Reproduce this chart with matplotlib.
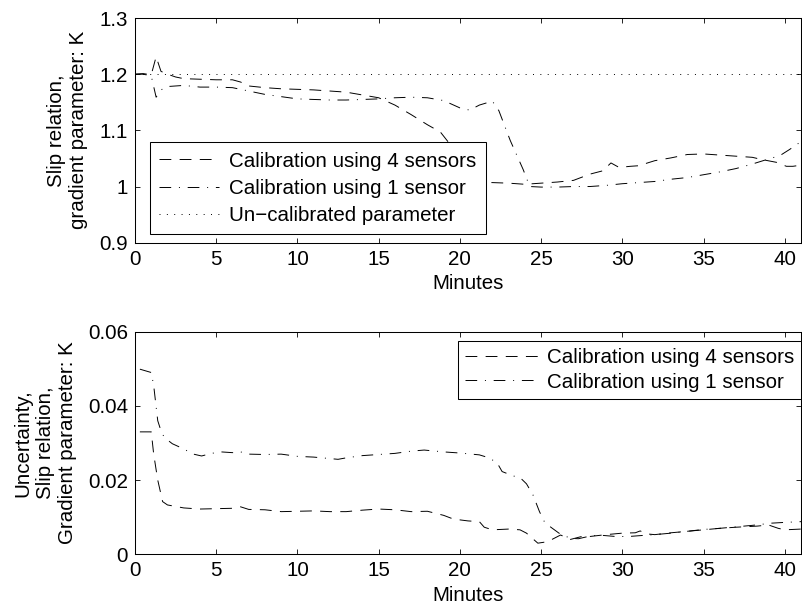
import numpy as np
import matplotlib
matplotlib.use('Agg')
import matplotlib.pyplot as plt

plt.rcParams['font.family'] = ['Liberation Sans', 'DejaVu Sans']
plt.rcParams['font.size'] = 14.8
plt.rcParams['lines.scale_dashes'] = False

# upper panel: slip relation gradient parameter K
t_k4 = [0, 0.5, 1.0, 1.3, 1.6, 2.0, 2.5, 3, 4, 5, 6, 6.5, 7, 8, 9, 10, 11, 12, 13, 14,
        15, 16, 17, 18, 18.8, 19.4, 20, 20.5, 21, 22, 23, 24, 25, 26, 27, 28, 28.8,
        29.3, 29.8, 30.5, 31, 32, 33, 34, 35, 36, 37, 38, 38.6, 39.5, 40.1, 40.5, 41]
k4 = [1.2, 1.201, 1.199, 1.231, 1.205, 1.2, 1.195, 1.192, 1.191, 1.19, 1.19, 1.186,
      1.179, 1.176, 1.174, 1.173, 1.172, 1.17, 1.168, 1.163, 1.158, 1.145, 1.128,
      1.11, 1.097, 1.075, 1.03, 1.008, 1.007, 1.007, 1.006, 1.004, 1.006, 1.008,
      1.011, 1.022, 1.028, 1.042, 1.034, 1.036, 1.037, 1.046, 1.051, 1.057, 1.058,
      1.056, 1.054, 1.052, 1.048, 1.043, 1.036, 1.036, 1.038]

t_k1 = [0, 0.5, 1.0, 1.3, 1.6, 2.0, 3, 4, 5, 6, 7, 8, 9, 10, 11, 12, 13, 14, 15, 16,
        17, 18, 19, 20, 20.6, 21.2, 22.0, 22.4, 23.1, 23.9, 24.3, 25, 26, 27, 28, 29,
        30, 31, 32, 33, 34, 35, 36, 37, 38, 39, 39.7, 40.3, 41]
k1 = [1.2, 1.2, 1.197, 1.159, 1.172, 1.178, 1.18, 1.177, 1.177, 1.176, 1.17, 1.164,
      1.16, 1.156, 1.155, 1.154, 1.154, 1.155, 1.156, 1.158, 1.159, 1.158, 1.153,
      1.14, 1.136, 1.145, 1.152, 1.135, 1.082, 1.03, 1.0, 0.999, 0.999, 1.0, 1.0,
      1.002, 1.005, 1.007, 1.009, 1.013, 1.016, 1.021, 1.026, 1.032, 1.04, 1.049,
      1.055, 1.066, 1.08]

k_uncal = 1.2

# lower panel: uncertainty of K
t_u4 = [0.3, 1.0, 1.15, 1.4, 1.7, 2.0, 3, 4, 5, 6, 6.5, 7, 8, 9, 10, 11, 12, 13, 14,
        15, 16, 17, 18, 19, 19.6, 20.5, 21.2, 21.5, 22, 23, 23.7, 24.1, 24.8, 25.4,
        26.2, 26.8, 27.5, 28, 29, 30, 30.8, 31.1, 31.5, 32, 33, 34, 35, 36, 37, 38.3,
        39, 39.6, 40, 41]
u4 = [0.033, 0.033, 0.027, 0.02, 0.0142, 0.0133, 0.0125, 0.0122, 0.0123, 0.0124,
      0.0128, 0.0121, 0.012, 0.0115, 0.0116, 0.0117, 0.0115, 0.0115, 0.0119, 0.0122,
      0.012, 0.0115, 0.0116, 0.0105, 0.0095, 0.009, 0.0088, 0.0073, 0.0066, 0.0068,
      0.0066, 0.0057, 0.003, 0.0034, 0.0052, 0.004, 0.0048, 0.0048, 0.0053, 0.0057,
      0.0058, 0.0063, 0.0055, 0.0053, 0.0058, 0.0062, 0.0066, 0.007, 0.0073, 0.0076,
      0.0079, 0.007, 0.0066, 0.0068]

t_u1 = [0.3, 1.0, 1.15, 1.4, 1.6, 1.8, 2.3, 2.9, 3.6, 4.1, 4.7, 5.3, 6, 6.5, 7, 8, 9,
        10, 11, 12, 12.5, 13, 14, 15, 16, 17, 17.8, 19, 20, 21.2, 21.8, 22.3, 22.6,
        23.3, 23.7, 24.1, 24.5, 24.9, 25.2, 25.6, 26.1, 26.8, 27.3, 27.8, 28.5, 29.6,
        30.4, 31, 32, 33, 34, 35, 36, 37, 38, 39.2, 40, 41]
u1 = [0.0499, 0.049, 0.0455, 0.036, 0.0333, 0.0315, 0.0298, 0.0286, 0.027, 0.0265,
      0.0272, 0.0276, 0.0274, 0.0276, 0.027, 0.0269, 0.027, 0.0264, 0.0262, 0.0258,
      0.0256, 0.026, 0.0266, 0.0269, 0.0272, 0.0278, 0.0281, 0.0276, 0.0273, 0.0268,
      0.026, 0.0246, 0.0223, 0.0211, 0.0207, 0.019, 0.016, 0.0115, 0.0088, 0.0073,
      0.0057, 0.0043, 0.0042, 0.0047, 0.0052, 0.0048, 0.0048, 0.005, 0.0053, 0.0057,
      0.0062, 0.0067, 0.007, 0.0074, 0.0078, 0.0084, 0.0086, 0.0088]

xticks = [0, 5, 10, 15, 20, 25, 30, 35, 40]
k_ticks = [0.9, 1.0, 1.1, 1.2, 1.3]
k_ticklabels = ['0.9', '1', '1.1', '1.2', '1.3']
u_ticks = [0, 0.02, 0.04, 0.06]
u_ticklabels = ['0', '0.02', '0.04', '0.06']

labels = ['Calibration using 4 sensors', 'Calibration using 1 sensor',
          'Un\u2212calibrated parameter']

dashed = (0, (8.5, 6.0))
dashdot = (0, (8.4, 5.6, 0.7, 5.6))
dotted = (0, (0.7, 4.6))
lw = 0.7

W, H = 802, 609
fig = plt.figure(figsize=(W / 100, H / 100), dpi=100)
ax1 = fig.add_axes([135 / W, 1 - 242.7 / H, 666 / W, 224.7 / H])
ax2 = fig.add_axes([135 / W, 1 - 554.3 / H, 666 / W, 222.6 / H])


def style(ax):
    ax.set_xlim(0, 41)
    ax.set_xticks(xticks)
    ax.tick_params(direction='in', top=True, right=True, length=3.6, width=0.6, pad=5)
    for s in ax.spines.values():
        s.set_linewidth(0.75)
    ax.set_xlabel('Minutes', labelpad=4)


ax1.plot(t_k4, k4, color='k', lw=lw, linestyle=dashed, label=labels[0])
ax1.plot(t_k1, k1, color='k', lw=lw, linestyle=dashdot, label=labels[1])
ax1.plot([0, 41], [k_uncal, k_uncal], color='k', lw=lw, linestyle=dotted, label=labels[2])
style(ax1)
ax1.set_ylim(0.9, 1.3)
ax1.set_yticks(k_ticks)
ax1.set_yticklabels(k_ticklabels)
ax1.set_ylabel('Slip relation,\ngradient parameter: K', labelpad=8)
leg1 = ax1.legend(loc='lower left', bbox_to_anchor=(0.0225, 0.037), borderaxespad=0,
                  fancybox=False, framealpha=1, edgecolor='k', handlelength=2.9,
                  handletextpad=0.5, labelspacing=0.4, borderpad=0.45)
leg1.get_frame().set_linewidth(0.75)

ax2.plot(t_u4, u4, color='k', lw=lw, linestyle=dashed, label=labels[0])
ax2.plot(t_u1, u1, color='k', lw=lw, linestyle=dashdot, label=labels[1])
style(ax2)
ax2.set_ylim(0, 0.06)
ax2.set_yticks(u_ticks)
ax2.set_yticklabels(u_ticklabels)
ax2.set_ylabel('Uncertainty,\nSlip relation,\nGradient parameter: K', labelpad=8)
leg2 = ax2.legend(loc='upper right', bbox_to_anchor=(1.0, 0.96), borderaxespad=0,
                  fancybox=False, framealpha=1, edgecolor='k', handlelength=3.6,
                  handletextpad=0.35, labelspacing=0.28, borderpad=0.35)
leg2.get_frame().set_linewidth(0.75)

fig.savefig('out.png', dpi=100)
